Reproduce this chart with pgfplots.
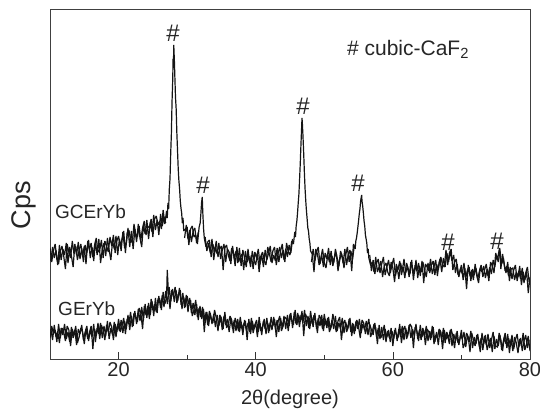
\documentclass[border=0pt]{standalone}
\usepackage{pgfplots}
\pgfplotsset{compat=1.18}
\usepackage{fontspec}
\setmainfont{Liberation Sans}
\begin{document}
\begin{tikzpicture}
\path[use as bounding box] (-50pt,-60pt) rectangle (490pt,359pt);
\begin{axis}[
  scale only axis, width=480pt, height=350pt,
  xmin=10, xmax=80, ymin=0, ymax=350,
  xtick={20,40,60,80}, minor xtick={30,50,70},
  ytick=\empty, xtick pos=lower, tick align=inside,
  major tick length=7pt, minor tick length=4pt,
  tick style={black!80, line width=0.7pt},
  axis line style={black!75, line width=0.8pt},
  /pgf/number format/assume math mode=true,
  ticklabel style={font=\fontsize{20}{24}\selectfont, text=black!85},
  xlabel={2θ(degree)},
  xlabel style={at={(axis description cs:0.5,0)}, anchor=center, yshift=-40pt, font=\fontsize{20}{24}\selectfont, text=black!85},
  ylabel={Cps},
  ylabel style={at={(axis description cs:0,0.44)}, anchor=center, yshift=26pt, font=\fontsize{27}{30}\selectfont, text=black!85},
  unbounded coords=jump,
  every axis plot/.append style={black!92, mark=none, line width=1.2pt, line join=miter, miter limit=2},
]
\addplot[black!92] coordinates {(10,111)(10.25,97)(10.5,108)(10.75,115)(11,100)(11.25,95)(11.5,108)(11.75,113)(12,103)(12.25,90)(12.5,115)(12.75,107)(13,101)(13.25,118)(13.5,105)(13.75,113)(14,99)(14.25,109)(14.5,115)(14.75,102)(15,113)(15.25,95)(15.5,118)(15.75,109)(16,116)(16.25,102)(16.5,114)(16.75,121)(17,107)(17.25,109)(17.5,119)(17.75,101)(18,118)(18.25,113)(18.5,107)(18.75,122)(19,113)(19.25,124)(19.5,106)(19.75,118)(20,123)(20.25,113)(20.5,120)(20.75,128)(21,106)(21.25,126)(21.5,129)(21.75,120)(22,116)(22.25,135)(22.5,125)(22.75,122)(23,133)(23.25,119)(23.5,131)(23.75,138)(24,124)(24.25,133)(24.5,131)(24.75,140)(25,122)(25.25,140)(25.5,143)(25.75,134)(26,138)(26.25,130)(26.5,149)(26.75,135)
(27,148)(27.1,141)(27.2,156)(27.3,150)(27.4,170)(27.5,180)(27.6,205)(27.7,225)(27.8,258)(27.9,280)(27.95,300)(28,292)(28.05,314)(28.1,305)(28.15,296)(28.2,284)(28.3,262)(28.4,250)(28.5,226)(28.6,208)(28.7,190)(28.8,178)(28.9,170)(29,158)(29.1,151)(29.2,146)(29.3,136)(29.4,141)(29.5,128)
(29.75,130)(30,132)(30.25,114)(30.5,130)(30.75,133)(31,122)(31.25,124)(31.5,115)(31.75,132)(31.9,136)(32,145)(32.1,156)(32.2,162)(32.3,144)(32.4,130)(32.5,121)
(32.75,112)(33,117)(33.25,119)(33.5,102)(33.75,115)(34,107)(34.25,118)(34.5,102)(34.75,110)(35,113)(35.25,89)(35.5,111)(35.75,114)(36,104)(36.25,98)(36.5,111)(36.75,106)(37,93)(37.25,112)(37.5,97)(37.75,102)(38,105)(38.25,89)(38.5,108)(38.75,97)(39,103)(39.25,92)(39.5,108)(39.75,99)(40,94)(40.25,106)(40.5,87)(40.75,103)(41,107)(41.25,98)(41.5,94)(41.75,112)(42,105)(42.25,97)(42.5,108)(42.75,112)(43,94)(43.25,105)(43.5,112)(43.75,101)(44,109)(44.25,97)(44.5,116)(44.75,107)(45,104)(45.25,118)
(45.5,115)(45.6,121)(45.7,127)(45.8,122)(45.9,133)(46,138)(46.1,146)(46.2,156)(46.3,165)(46.4,180)(46.5,196)(46.6,215)(46.7,232)(46.75,241)(46.8,236)(46.9,222)(47,205)(47.1,186)(47.2,170)(47.3,158)(47.4,148)(47.5,140)(47.6,131)(47.7,128)(47.8,120)(47.9,116)(48,108)
(48.25,105)(48.5,87)(48.75,110)(49,105)(49.25,94)(49.5,101)(49.75,110)(50,96)(50.25,91)(50.5,104)(50.75,97)(51,108)(51.25,93)(51.5,102)(51.75,106)(52,88)(52.25,99)(52.5,106)(52.75,96)(53,110)(53.25,94)(53.5,105)(53.75,109)(54,88)(54.25,115)
(54.5,110)(54.6,118)(54.7,121)(54.8,126)(54.9,132)(55,138)(55.1,145)(55.2,150)(55.3,158)(55.4,162)(55.45,164)(55.5,158)(55.6,153)(55.7,146)(55.8,138)(55.9,133)(56,124)(56.1,120)(56.2,116)(56.3,106)(56.4,110)(56.5,101)
(56.75,94)(57,97)(57.25,87)(57.5,102)(57.75,87)(58,92)(58.25,98)(58.5,82)(58.75,93)(59,96)(59.25,87)(59.5,83)(59.75,97)(60,91)(60.25,77)(60.5,95)(60.75,89)(61,98)(61.25,84)(61.5,92)(61.75,81)(62,96)(62.25,90)(62.5,85)(62.75,99)(63,79)(63.25,94)(63.5,88)(63.75,96)(64,83)(64.25,98)(64.5,76)(64.75,95)(65,92)(65.25,88)(65.5,100)(65.75,85)(66,92)(66.25,99)(66.5,83)(66.75,97)(67,102)(67.25,94)(67.5,92)(67.75,109)(68,94)(68.25,106)(68.5,110)(68.75,89)(69,97)(69.25,100)(69.5,84)(69.75,87)(70,94)(70.25,79)(70.5,91)(70.75,70)(71,94)(71.25,83)(71.5,89)(71.75,79)(72,95)(72.25,83)(72.5,76)(72.75,91)(73,87)(73.25,93)(73.5,81)(73.75,90)(74,78)(74.25,97)(74.5,93)(74.75,86)(75,106)(75.25,99)(75.5,109)(75.6,111)(75.75,90)(76,105)(76.25,94)(76.5,86)(76.75,97)(77,78)(77.25,90)(77.5,91)(77.75,79)(78,87)(78.25,82)(78.5,93)(78.75,74)(79,87)(79.25,79)(79.5,88)(79.75,66)(80,82)};
\addplot[black!92] coordinates {(10.125,98)(10.375,112)(10.625,101)(10.875,109)(11.125,94)(11.375,114)(11.625,99)(11.875,110)(12.125,104)(12.375,116)(12.625,96)(12.875,112)(13.125,103)(13.375,92)(13.625,115)(13.875,104)(14.125,117)(14.375,100)(14.625,111)(14.875,97)(15.125,114)(15.375,106)(15.625,119)(15.875,101)(16.125,112)(16.375,98)(16.625,117)(16.875,104)(17.125,120)(17.375,96)(17.625,110)(17.875,116)(18.125,103)(18.375,121)(18.625,109)(18.875,99)(19.125,118)(19.375,110)(19.625,123)(19.875,104)(20.125,120)(20.375,108)(20.625,127)(20.875,111)(21.125,115)(21.375,131)(21.625,112)(21.875,128)(22.125,110)(22.375,130)(22.625,117)(22.875,135)(23.125,121)(23.375,112)(23.625,134)(23.875,125)(24.125,139)(24.375,120)(24.625,137)(24.875,127)(25.125,144)(25.375,129)(25.625,139)(25.875,124)(26.125,145)(26.375,133)(26.625,142)(26.875,136)(27,nan)
(29.625,121)(29.875,134)(30.125,120)(30.375,129)(30.625,117)(30.875,128)(31.125,131)(31.375,116)(31.625,127)(32,nan)
(32.625,122)(32.875,108)(33.125,116)(33.375,106)(33.625,120)(33.875,99)(34.125,112)(34.375,105)(34.625,116)(34.875,100)(35.125,109)(35.375,115)(35.625,97)(35.875,110)(36.125,107)(36.375,95)(36.625,113)(36.875,100)(37.125,108)(37.375,96)(37.625,111)(37.875,93)(38.125,109)(38.375,101)(38.625,92)(38.875,110)(39.125,96)(39.375,104)(39.625,90)(39.875,107)(40.125,101)(40.375,110)(40.625,95)(40.875,104)(41.125,92)(41.375,109)(41.625,99)(41.875,106)(42.125,113)(42.375,96)(42.625,104)(42.875,98)(43.125,111)(43.375,97)(43.625,108)(43.875,115)(44.125,99)(44.375,110)(44.625,102)(44.875,114)(45.125,106)(45.375,120)(46,nan)
(48.125,97)(48.375,110)(48.625,98)(48.875,107)(49.125,112)(49.375,95)(49.625,104)(49.875,92)(50.125,106)(50.375,100)(50.625,111)(50.875,94)(51.125,103)(51.375,96)(51.625,110)(51.875,101)(52.125,93)(52.375,108)(52.625,102)(52.875,91)(53.125,104)(53.375,112)(53.625,97)(53.875,108)(54.125,100)(54.375,113)(55,nan)
(56.625,104)(56.875,88)(57.125,99)(57.375,85)(57.625,96)(57.875,100)(58.125,86)(58.375,95)(58.625,102)(58.875,84)(59.125,92)(59.375,99)(59.625,86)(59.875,94)(60.125,101)(60.375,83)(60.625,92)(60.875,80)(61.125,96)(61.375,88)(61.625,100)(61.875,86)(62.125,93)(62.375,82)(62.625,97)(62.875,91)(63.125,85)(63.375,99)(63.625,81)(63.875,93)(64.125,87)(64.375,97)(64.625,89)(64.875,82)(65.125,96)(65.375,86)(65.625,94)(65.875,98)(66.125,84)(66.375,95)(66.625,89)(66.875,100)(67.125,87)(67.375,101)(67.625,92)(67.875,106)(68.125,97)(68.375,108)(68.625,98)(68.875,104)(69.125,86)(69.375,95)(69.625,82)(69.875,91)(70.125,85)(70.375,96)(70.625,81)(70.875,89)(71.125,92)(71.375,78)(71.625,90)(71.875,84)(72.125,91)(72.375,80)(72.625,88)(72.875,94)(73.125,82)(73.375,89)(73.625,95)(73.875,83)(74.125,92)(74.375,85)(74.625,99)(74.875,92)(75.125,104)(75.375,97)(75.625,108)(75.875,95)(76.125,101)(76.375,88)(76.625,93)(76.875,83)(77.125,92)(77.375,80)(77.625,89)(77.875,94)(78.125,78)(78.375,88)(78.625,80)(78.875,91)(79.125,76)(79.375,86)(79.625,92)(79.875,77)};
\addplot[black!92] coordinates {(10,21)(10.25,33)(10.5,25)(10.75,29)(11,17)(11.25,35)(11.5,21)(11.75,31)(12,27)(12.25,18)(12.5,33)(12.75,29)(13,13)(13.25,30)(13.5,24)(13.75,33)(14,16)(14.25,22)(14.5,31)(14.75,27)(15,15)(15.25,30)(15.5,20)(15.75,26)(16,33)(16.25,10)(16.5,30)(16.75,23)(17,36)(17.25,20)(17.5,34)(17.75,29)(18,19)(18.25,34)(18.5,27)(18.75,37)(19,32)(19.25,19)(19.5,35)(19.75,27)(20,40)(20.25,27)(20.5,33)(20.75,41)(21,25)(21.25,40)(21.5,35)(21.75,47)(22,32)(22.25,46)(22.5,42)(22.75,37)(23,51)(23.25,46)(23.5,30)(23.75,53)(24,44)(24.25,53)(24.5,40)(24.75,60)(25,49)(25.25,55)(25.5,47)(25.75,60)(26,60)(26.25,49)(26.5,67)(26.75,55)(27,61)(27.1,89)(27.25,69)(27.5,50)(27.75,69)(28,63)(28.25,72)(28.5,56)(28.75,64)(29,69)(29.25,50)(29.5,62)(29.75,52)(30,63)(30.25,55)(30.5,59)(30.75,43)(31,49)(31.25,59)(31.5,42)(31.75,51)(32,42)(32.25,52)(32.5,27)(32.75,47)(33,34)(33.25,48)(33.5,41)(33.75,36)(34,49)(34.25,41)(34.5,28)(34.75,44)(35,41)(35.25,30)(35.5,47)(35.75,31)(36,35)(36.25,43)(36.5,39)(36.75,26)(37,41)(37.25,35)(37.5,28)(37.75,42)(38,30)(38.25,35)(38.5,38)(38.75,19)(39,40)(39.25,25)(39.5,38)(39.75,30)(40,36)(40.25,22)(40.5,42)(40.75,28)(41,33)(41.25,40)(41.5,25)(41.75,36)(42,28)(42.25,42)(42.5,33)(42.75,40)(43,22)(43.25,37)(43.5,43)(43.75,28)(44,33)(44.25,42)(44.5,40)(44.75,28)(45,45)(45.25,39)(45.5,34)(45.75,49)(46,34)(46.25,44)(46.5,38)(46.75,48)(47,23)(47.25,45)(47.5,41)(47.75,31)(48,48)(48.25,35)(48.5,44)(48.75,38)(49,26)(49.25,44)(49.5,40)(49.75,30)(50,45)(50.25,34)(50.5,41)(50.75,27)(51,32)(51.25,45)(51.5,36)(51.75,27)(52,38)(52.25,42)(52.5,19)(52.75,35)(53,39)(53.25,27)(53.5,32)(53.75,41)(54,23)(54.25,35)(54.5,28)(54.75,39)(55,32)(55.25,21)(55.5,39)(55.75,36)(56,25)(56.25,33)(56.5,40)(56.75,22)(57,27)(57.25,35)(57.5,31)(57.75,15)(58,34)(58.25,21)(58.5,26)(58.75,34)(59,17)(59.25,28)(59.5,21)(59.75,31)(60,13)(60.25,29)(60.5,25)(60.75,21)(61,35)(61.25,16)(61.5,29)(61.75,33)(62,20)(62.25,26)(62.5,35)(62.75,32)(63,11)(63.25,32)(63.5,28)(63.75,18)(64,34)(64.25,22)(64.5,29)(64.75,14)(65,30)(65.25,27)(65.5,19)(65.75,33)(66,15)(66.25,24)(66.5,21)(66.75,30)(67,27)(67.25,10)(67.5,29)(67.75,20)(68,23)(68.25,15)(68.5,30)(68.75,23)(69,11)(69.25,26)(69.5,16)(69.75,19)(70,29)(70.25,11)(70.5,16)(70.75,26)(71,22)(71.25,7)(71.5,26)(71.75,19)(72,13)(72.25,24)(72.5,19)(72.75,7)(73,26)(73.25,15)(73.5,24)(73.75,9)(74,16)(74.25,21)(74.5,7)(74.75,23)(75,13)(75.25,12)(75.5,26)(75.75,19)(76,8)(76.25,22)(76.5,15)(76.75,25)(77,6)(77.25,20)(77.5,8)(77.75,22)(78,16)(78.25,6)(78.5,20)(78.75,13)(79,26)(79.25,9)(79.5,15)(79.75,23)(80,8)};
\addplot[black!92] coordinates {(10.125,30)(10.375,19)(10.625,34)(10.875,22)(11.125,28)(11.375,16)(11.625,31)(11.875,24)(12.125,35)(12.375,20)(12.625,27)(12.875,17)(13.125,32)(13.375,21)(13.625,29)(13.875,14)(14.125,30)(14.375,25)(14.625,34)(14.875,19)(15.125,27)(15.375,33)(15.625,18)(15.875,29)(16.125,22)(16.375,35)(16.625,17)(16.875,31)(17.125,25)(17.375,36)(17.625,21)(17.875,33)(18.125,23)(18.375,38)(18.625,20)(18.875,31)(19.125,24)(19.375,37)(19.625,22)(19.875,35)(20.125,28)(20.375,39)(20.625,26)(20.875,38)(21.125,30)(21.375,44)(21.625,29)(21.875,43)(22.125,33)(22.375,48)(22.625,35)(22.875,50)(23.125,38)(23.375,52)(23.625,39)(23.875,55)(24.125,41)(24.375,56)(24.625,44)(24.875,58)(25.125,43)(25.375,61)(25.625,46)(25.875,63)(26.125,51)(26.375,64)(26.625,52)(26.875,68)(27.125,55)(27.375,72)(27.625,58)(27.875,70)(28.125,57)(28.375,69)(28.625,58)(28.875,71)(29.125,54)(29.375,66)(29.625,51)(29.875,64)(30.125,47)(30.375,61)(30.625,46)(30.875,56)(31.125,44)(31.375,55)(31.625,39)(31.875,53)(32.125,40)(32.375,50)(32.625,36)(32.875,47)(33.125,33)(33.375,46)(33.625,35)(33.875,45)(34.125,32)(34.375,44)(34.625,33)(34.875,42)(35.125,29)(35.375,43)(35.625,34)(35.875,40)(36.125,27)(36.375,41)(36.625,30)(36.875,39)(37.125,28)(37.375,40)(37.625,27)(37.875,37)(38.125,24)(38.375,39)(38.625,29)(38.875,36)(39.125,27)(39.375,41)(39.625,26)(39.875,34)(40.125,39)(40.375,27)(40.625,36)(40.875,24)(41.125,38)(41.375,30)(41.625,41)(41.875,26)(42.125,37)(42.375,29)(42.625,42)(42.875,30)(43.125,39)(43.375,27)(43.625,41)(43.875,31)(44.125,43)(44.375,30)(44.625,44)(44.875,33)(45.125,46)(45.375,31)(45.625,47)(45.875,35)(46.125,46)(46.375,32)(46.625,44)(46.875,36)(47.125,49)(47.375,33)(47.625,43)(47.875,30)(48.125,42)(48.375,32)(48.625,46)(48.875,30)(49.125,41)(49.375,33)(49.625,44)(49.875,28)(50.125,40)(50.375,31)(50.625,42)(50.875,29)(51.125,39)(51.375,30)(51.625,43)(51.875,28)(52.125,36)(52.375,30)(52.625,41)(52.875,26)(53.125,37)(53.375,29)(53.625,40)(53.875,27)(54.125,36)(54.375,25)(54.625,38)(54.875,30)(55.125,40)(55.375,26)(55.625,35)(55.875,29)(56.125,38)(56.375,24)(56.625,35)(56.875,29)(57.125,24)(57.375,36)(57.625,22)(57.875,31)(58.125,20)(58.375,32)(58.625,19)(58.875,30)(59.125,22)(59.375,29)(59.625,17)(59.875,28)(60.125,20)(60.375,31)(60.625,18)(60.875,30)(61.125,22)(61.375,33)(61.625,19)(61.875,31)(62.125,22)(62.375,34)(62.625,21)(62.875,30)(63.125,23)(63.375,35)(63.625,20)(63.875,29)(64.125,19)(64.375,31)(64.625,22)(64.875,33)(65.125,18)(65.375,28)(65.625,21)(65.875,32)(66.125,17)(66.375,27)(66.625,14)(66.875,29)(67.125,19)(67.375,31)(67.625,16)(67.875,27)(68.125,20)(68.375,29)(68.625,13)(68.875,25)(69.125,18)(69.375,28)(69.625,14)(69.875,24)(70.125,20)(70.375,27)(70.625,12)(70.875,23)(71.125,17)(71.375,28)(71.625,11)(71.875,22)(72.125,15)(72.375,25)(72.625,12)(72.875,21)(73.125,9)(73.375,23)(73.625,14)(73.875,25)(74.125,11)(74.375,19)(74.625,27)(74.875,10)(75.125,20)(75.375,13)(75.625,24)(75.875,9)(76.125,18)(76.375,26)(76.625,11)(76.875,21)(77.125,14)(77.375,24)(77.625,10)(77.875,19)(78.125,25)(78.375,12)(78.625,21)(78.875,8)(79.125,18)(79.375,24)(79.625,11)(79.875,19)};
\begin{scope}[every node/.style={font=\fontsize{24}{26}\selectfont, text=black!85, inner sep=0pt}]
\node at (axis cs:27.94,326) {\#};
\node at (axis cs:32.31,174) {\#};
\node at (axis cs:46.9,253) {\#};
\node at (axis cs:54.92,176) {\#};
\node at (axis cs:68.04,117) {\#};
\node at (axis cs:75.19,118) {\#};
\node[anchor=west, font=\fontsize{21}{24}\selectfont] at (axis cs:53.3,310) {\# cubic-CaF\textsubscript{2}};
\node[anchor=west, font=\fontsize{19}{22}\selectfont] at (axis cs:10.73,147) {GCErYb};
\node[anchor=west, font=\fontsize{19}{22}\selectfont] at (axis cs:11.17,50) {GErYb};
\end{scope}
\end{axis}
\end{tikzpicture}
\end{document}
